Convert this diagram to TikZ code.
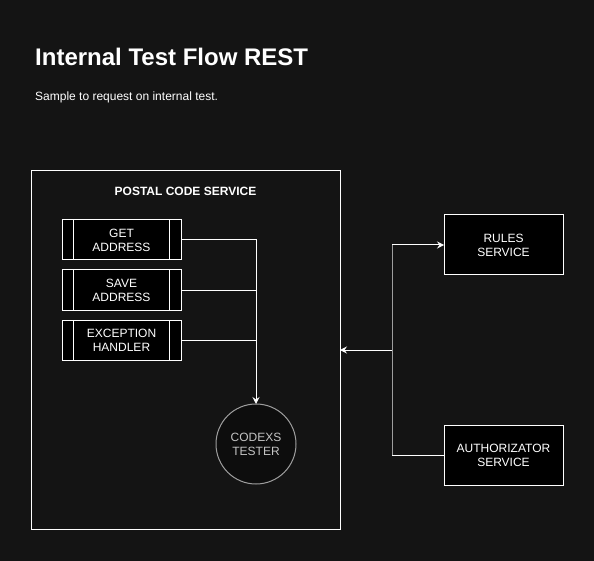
\documentclass[tikz,border=0pt]{standalone}
\usepackage{fontspec}
\setmainfont{Liberation Sans}
\usepackage{tikz}
\usetikzlibrary{positioning,arrows.meta}

\definecolor{canvas}{HTML}{141414}
\definecolor{dimline}{HTML}{9E9E9E}
\definecolor{dimtext}{HTML}{C4C4C4}

\begin{document}
\begin{tikzpicture}[x=1pt, y=-1pt,
			procnode/.style={rectangle, draw=white, fill=black, line width=1pt, outer sep=0pt, minimum width=119pt, minimum height=40pt, text=white, align=center, font=\fontsize{12}{14}\selectfont,
				path picture={\draw[white, line width=1pt]
					([xshift=11pt]path picture bounding box.south west) -- ([xshift=11pt]path picture bounding box.north west)
					([xshift=-12pt]path picture bounding box.south east) -- ([xshift=-12pt]path picture bounding box.north east);}},
			servnode/.style={rectangle, draw=white, fill=black, line width=1pt, outer sep=0pt, minimum width=119pt, minimum height=60pt, text=white, align=center, font=\fontsize{12}{14}\selectfont},
			roundnode/.style={circle, draw=dimline, fill=black!95!white, line width=1pt, outer sep=0pt, minimum size=80pt, inner sep=0pt, text=dimtext, align=center, font=\fontsize{12}{14}\selectfont},
			line/.style={draw=white, line width=1pt},
			link/.style={line, -{Stealth[length=7pt, width=7pt, inset=2.5pt]}},
		]

			%Background
			\fill[canvas] (0,0) rectangle (594,561);
			\useasboundingbox (0,0) rectangle (594,561);

			%Titles
			\node[anchor=base west, inner sep=0pt, text=white, font=\fontsize{24}{28}\selectfont\bfseries] (title) at (35,66) {Internal Test Flow REST};
			\node[anchor=base west, inner sep=0pt, text=white, font=\fontsize{12}{14}\selectfont] (subtitle) at (35,101) {Sample to request on internal test.};

			%Nodes
			\node[draw=white, fill=canvas, line width=1pt, outer sep=0pt, minimum width=309pt, minimum height=358pt] (postal) at (185.5,350) {};
			\node[text=white, font=\fontsize{12}{14}\selectfont\bfseries] (postaltitle) at (185.5,191) {POSTAL CODE SERVICE};
			\node[procnode]		(get)		at (121.5,240)	{GET\\ADDRESS};
			\node[procnode]		(save)		[below=10pt of get]	{SAVE\\ADDRESS};
			\node[procnode]		(exception)	[below=10pt of save]	{EXCEPTION\\HANDLER};
			\node[roundnode]	(codexs)	at (256,444)	{CODEXS\\TESTER};
			\node[servnode]		(rules)		at (503.5,245)	{RULES\\SERVICE};
			\node[servnode]		(auth)		at (503.5,455)	{AUTHORIZATOR\\SERVICE};
			\coordinate (hub) at (392,350);

			%Lines
			\draw[link]	(get.east) -| (codexs.north);
			\draw[line]	(save.east) -- (save.east -| codexs.north);
			\draw[line]	(exception.east) -- (exception.east -| codexs.north);
			\draw[line]	(auth.west) -- (auth.west -| hub);
			\draw[line, draw=dimline]	(auth.west -| hub) -- (rules.west -| hub);
			\draw[link]	(rules.west -| hub) -- (rules.west);
			\draw[link]	(hub) -- (postal.east);

		\end{tikzpicture}
\end{document}
